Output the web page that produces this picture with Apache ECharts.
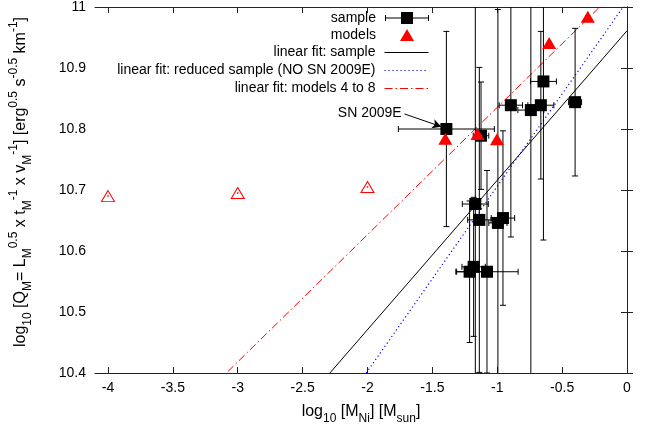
<!DOCTYPE html>
<html>
<head>
<meta charset="utf-8">
<script src="https://cdn.jsdelivr.net/npm/echarts@6/dist/echarts.min.js"></script>
<style>
  html, body { margin: 0; padding: 0; background: #fff; }
  #chart { width: 649px; height: 430px; }
</style>
</head>
<body>
<div id="chart"></div>
<script>
// Observed supernovae: log10 M_Ni, log10 Q_M and their uncertainties
const sampleX    = [-1.392, -0.644, -0.895, -0.741, -0.664, -0.400, -1.125, -1.169, -1.138, -0.956, -0.995, -1.182, -1.213, -1.079];
const sampleY    = [10.800, 10.878, 10.839, 10.831, 10.839, 10.844, 10.789, 10.677, 10.651, 10.654, 10.646, 10.574, 10.566, 10.566];
const sampleXErr = [0.37, 0.10, 0.09, 0.10, 0.10, 0.05, 0.06, 0.10, 0.09, 0.09, 0.07, 0.09, 0.10, 0.24];
const sampleYErr = [0.16, 0.26, 0.216, 0.60, 0.121, 0.121, 0.088, 0.60, 0.25, 0.143, 0.35, 0.114, 0.116, 0.166];

// Hydrodynamical models 1..8 (models 1-3 drawn open, 4-8 filled)
const modelX = [-4.0, -3.0, -2.0, -1.40, -1.152, -1.002, -0.60, -0.302];
const modelY = [10.690, 10.695, 10.705, 10.784, 10.792, 10.783, 10.941, 10.984];
const openModelCount = 3;

// Linear fits: [intercept, slope]
const fitSample  = [10.961, 0.245];
const fitReduced = [11.009, 0.303];
const fitModels  = [11.044, 0.2086];

// Axis ranges and tick labels
const xRange = [-4.1, 0];
const yRange = [10.4, 11];
const xTicks = [-4, -3.5, -3, -2.5, -2, -1.5, -1, -0.5, 0];
const yTicks = [10.4, 10.5, 10.6, 10.7, 10.8, 10.9, 11];

// Arrow annotation
const annotText = 'SN 2009E';
const arrowFrom = [-1.715, 10.8247];
const arrowTo   = [-1.431, 10.8038];

const FONT = "'Liberation Sans', Arial, Helvetica, sans-serif";

const sampleData = sampleX.map((x, i) => [x, sampleY[i], sampleXErr[i], sampleYErr[i]]);
const openModels = modelX.slice(0, openModelCount).map((x, i) => [x, modelY[i]]);
const filledModels = modelX.slice(openModelCount).map((x, i) => [x, modelY[i + openModelCount]]);

function fitLine(coef) {
  return xRange.map(x => [x, coef[0] + coef[1] * x]);
}

function renderErrorBars(params, api) {
  const x = api.value(0), y = api.value(1), ex = api.value(2), ey = api.value(3);
  const lo = api.coord([x, y - ey]), hi = api.coord([x, y + ey]);
  const l = api.coord([x - ex, y]), r = api.coord([x + ex, y]);
  const c = 3;
  const style = { stroke: '#000', lineWidth: 1, fill: null };
  const seg = (x1, y1, x2, y2) => ({ type: 'line', shape: { x1, y1, x2, y2 }, style });
  return {
    type: 'group',
    children: [
      seg(lo[0], lo[1], hi[0], hi[1]),
      seg(lo[0] - c, lo[1], lo[0] + c, lo[1]),
      seg(hi[0] - c, hi[1], hi[0] + c, hi[1]),
      seg(l[0], l[1], r[0], r[1]),
      seg(l[0], l[1] - c, l[0], l[1] + c),
      seg(r[0], r[1] - c, r[0], r[1] + c)
    ]
  };
}

const rich = {
  n:   { fontSize: 16, fontFamily: FONT, color: '#000', lineHeight: 26, verticalAlign: 'middle' },
  sub: { fontSize: 12, fontFamily: FONT, color: '#000', lineHeight: 12, verticalAlign: 'bottom' },
  sup: { fontSize: 12, fontFamily: FONT, color: '#000', lineHeight: 12, verticalAlign: 'top' }
};

const yName = '{n|log}{sub|10}{n| [Q}{sub|M}{n|= L}{sub|M}{sup|0.5}{n| x t}{sub|M}{sup|-1}{n| x v}{sub|M}{sup|-1}{n|] [erg}{sup|0.5}{n| s}{sup|-0.5}{n| km}{sup|-1}{n|]}';
const xName = '{n|log}{sub|10}{n| [M}{sub|Ni}{n|] [M}{sub|sun}{n|]}';

const axisLine = { show: true, lineStyle: { color: '#222', width: 1 } };
const tick = (vals) => ({ show: true, inside: true, length: 6, customValues: vals, lineStyle: { color: '#222', width: 1 } });

const samplePathIcon = 'path://M0 3h1v6h-1z M0 5.5h44v1h-44z M43 3h1v6h-1z M16 0h12v12h-12z';

const legendText = { fontSize: 14, fontFamily: FONT, color: '#000', padding: [0, 4, 0, 0] };
const legendBase = {
  orient: 'vertical', align: 'right', padding: 0, selectedMode: false,
  itemWidth: 44, itemHeight: 12,
  textStyle: legendText
};

const chart = echarts.init(document.getElementById('chart'), null, { renderer: 'canvas' });
chart.setOption({
  animation: false,
  backgroundColor: '#fff',
  grid: { left: 95, right: 22, top: 4, bottom: 53 },
  legend: [
    Object.assign({}, legendBase, { right: 220, top: 11, data: [{ name: 'sample', icon: samplePathIcon }] }),
    Object.assign({}, legendBase, { right: 235, top: 28, itemWidth: 14, itemHeight: 12,
      textStyle: Object.assign({}, legendText, { padding: [0, 19, 0, 0] }),
      data: [{ name: 'models', icon: 'triangle' }] }),
    Object.assign({}, legendBase, { right: 220, top: 45.5, itemGap: 4, itemHeight: 13,
      itemStyle: { opacity: 0 },
      lineStyle: { width: 1 },
      data: ['linear fit: sample', 'linear fit: reduced sample (NO SN 2009E)', 'linear fit: models 4 to 8'] })
  ],
  xAxis: [
    {
      type: 'value', min: xRange[0], max: xRange[1], position: 'bottom',
      name: xName, nameLocation: 'middle', nameGap: 26,
      nameTextStyle: { rich },
      axisLine, axisTick: tick(xTicks), splitLine: { show: false },
      axisLabel: { customValues: xTicks, fontSize: 14, fontFamily: FONT, color: '#000', margin: 8,
        formatter: v => String(Math.round(v * 10) / 10) }
    },
    {
      type: 'value', min: xRange[0], max: xRange[1], position: 'top',
      axisLine, axisTick: tick(xTicks), axisLabel: { show: false }, splitLine: { show: false }
    }
  ],
  yAxis: [
    {
      type: 'value', min: yRange[0], max: yRange[1], position: 'left',
      name: yName, nameLocation: 'middle', nameRotate: 90, nameGap: 61,
      nameTextStyle: { rich, padding: [0, 0, 0, 16] },
      axisLine, axisTick: tick(yTicks), splitLine: { show: false },
      axisLabel: { customValues: yTicks, fontSize: 14, fontFamily: FONT, color: '#000', margin: 9,
        formatter: v => String(Math.round(v * 10) / 10) }
    },
    {
      type: 'value', min: yRange[0], max: yRange[1], position: 'right',
      axisLine, axisTick: tick(yTicks), axisLabel: { show: false }, splitLine: { show: false }
    }
  ],
  series: [
    {
      name: 'linear fit: sample', type: 'line', data: fitLine(fitSample), symbol: 'none', clip: true,
      lineStyle: { color: '#000', width: 1, type: 'solid' }, itemStyle: { color: '#000' }, z: 2
    },
    {
      name: 'linear fit: reduced sample (NO SN 2009E)', type: 'line', data: fitLine(fitReduced), symbol: 'none', clip: true,
      lineStyle: { color: '#0000ff', width: 1.2, type: [1.2, 2.8] }, itemStyle: { color: '#0000ff' }, z: 2
    },
    {
      name: 'linear fit: models 4 to 8', type: 'line', data: fitLine(fitModels), symbol: 'none', clip: true,
      lineStyle: { color: '#ff0000', width: 1, type: [8, 3, 1.5, 3] }, itemStyle: { color: '#ff0000' }, z: 2
    },
    {
      name: 'sample errors', type: 'custom', data: sampleData, renderItem: renderErrorBars,
      encode: { x: 0, y: 1 }, clip: true, z: 3
    },
    {
      name: 'models open', type: 'scatter', data: openModels, symbol: 'triangle', symbolSize: [13, 11],
      itemStyle: { color: '#fff', borderColor: '#ff0000', borderWidth: 1, opacity: 1 }, z: 4
    },
    {
      name: 'models open centre', type: 'scatter', data: openModels, symbol: 'rect', symbolSize: 1.5,
      itemStyle: { color: '#ff0000', opacity: 1 }, z: 5
    },
    {
      name: 'sample', type: 'scatter', data: sampleData.map(d => [d[0], d[1]]), symbol: 'rect', symbolSize: 12,
      itemStyle: { color: '#000', opacity: 1 }, z: 5,
      markLine: {
        silent: true, animation: false,
        symbol: ['none', 'arrow'], symbolSize: [7, 9],
        lineStyle: { color: '#000', width: 1, type: 'solid' },
        label: { show: true, position: 'start', formatter: annotText, fontSize: 14, fontFamily: FONT, color: '#000', distance: 3 },
        data: [[{ coord: arrowFrom }, { coord: arrowTo }]]
      }
    },
    {
      name: 'models', type: 'scatter', data: filledModels, symbol: 'triangle', symbolSize: [14, 12],
      itemStyle: { color: '#ff0000', opacity: 1 }, z: 6
    }
  ]
});
</script>
</body>
</html>
